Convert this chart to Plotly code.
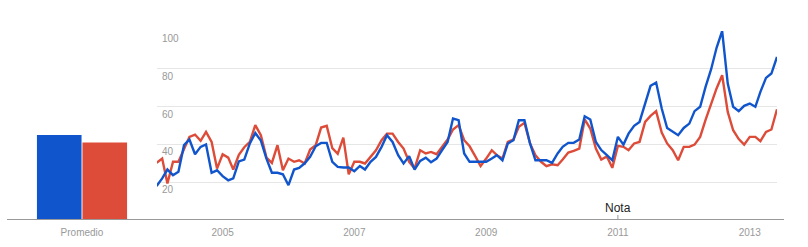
import pandas as pd
import plotly.graph_objects as go

W, H = 808, 247

# ---- data -------------------------------------------------------------
months = pd.date_range("2004-01-01", periods=114, freq="MS")

blue_values = [
    18, 22, 26.7, 23.7, 25.5, 39.6, 42.6, 34.8, 38.7, 40, 25, 26.3,
    23.2, 21, 22, 31, 32, 40.5, 46, 42, 32.5, 25, 25, 24.2,
    18.4, 26.7, 27.6, 30, 33.4, 39, 40.8, 40.8, 30.8, 28.1, 27.8, 27.8,
    25.8, 28.6, 26.7, 30.8, 33.4, 38.7, 44.9, 41.3, 34.3, 29.9, 33.8, 26.7,
    31.3, 33, 30.6, 32.5, 36.9, 41.3, 53.7, 52.8, 35.2, 30.8, 30.8, 30.8,
    30.8, 32.5, 34.3, 31.6, 40.5, 42.2, 52.8, 52.8, 40.5, 31.6, 31.6, 31.6,
    30.2, 35.2, 38.7, 40.8, 40.8, 42.6, 54.9, 53.2, 41.3, 37, 34.3, 31.6,
    44, 39.9, 45.7, 49.8, 51.9, 62.2, 71, 72.7, 59, 48.7, 46.6, 44.9,
    48.7, 51, 57.6, 59.9, 70.4, 79.8, 91.1, 100, 72.2, 59.9, 57.6, 60.4,
    61.6, 59.9, 67.8, 75.2, 77.5, 86.3,
]

red_values = [
    30.2, 32.5, 19.3, 30.8, 30.8, 37.8, 44, 45.2, 41.9, 46.6, 41.3, 27.2,
    34.8, 33, 26.7, 34.5, 38.5, 41.3, 50.2, 44.9, 33, 30.2, 39.6, 26.3,
    32.5, 30.8, 31.6, 29.9, 37.3, 39.6, 48.9, 49.8, 38, 35, 43.6, 24.2,
    30.8, 30.8, 29.9, 33.4, 36.9, 42.2, 45.7, 45.7, 41.3, 37.8, 30.8, 27.2,
    36.9, 35.2, 36, 34.8, 38.7, 42.6, 47.9, 50.2, 42.2, 39, 33.8, 28.5,
    32.5, 36.9, 34.3, 32.5, 41.3, 42.6, 49.3, 51.4, 40.5, 34.3, 30.8, 28.5,
    29.5, 29, 32, 35.7, 36.6, 37.8, 53.2, 48.4, 37.8, 32, 33.6, 27.6,
    39.2, 38.7, 36.9, 40.5, 41.3, 51.9, 55.1, 57.6, 46.3, 40.5, 36.9, 31.6,
    38.7, 38.7, 39.9, 44, 53, 62, 69.6, 76.6, 57.2, 47.5, 42.8, 39.9,
    44, 44, 41.7, 46.6, 47.9, 58.6,
]

avg_category = ["Promedio"]
avg_blue = [45]
avg_red = [41]

year_tickvals = ["2005-01-01", "2007-01-01", "2009-01-01", "2011-01-01", "2013-01-01"]
year_ticktext = ["2005", "2007", "2009", "2011", "2013"]
y_tickvals = [20, 40, 60, 80, 100]
y_ticktext = ["20", "40", "60", "80", "100"]

note_date = "2011-01-01"
note_text = "Nota"

# ---- style ------------------------------------------------------------
BLUE = "#1155CC"
RED = "#DD4B39"
GRAY_TXT = "#999999"
FONT = "Liberation Sans, Arial, sans-serif"


def px_x(p):
    return p / W


def px_y(p):
    return 1 - p / H


y_dom = [px_y(220), px_y(31)]

fig = go.Figure()

fig.add_trace(go.Bar(x=avg_category, y=avg_blue, marker=dict(color=BLUE, line=dict(width=0)),
                     xaxis="x2", yaxis="y2", showlegend=False, hoverinfo="skip"))
fig.add_trace(go.Bar(x=avg_category, y=avg_red, marker=dict(color=RED, line=dict(width=0)),
                     xaxis="x2", yaxis="y2", showlegend=False, hoverinfo="skip"))

fig.add_trace(go.Scatter(x=months, y=red_values, mode="lines",
                         line=dict(color=RED, width=2.4), showlegend=False))
fig.add_trace(go.Scatter(x=months, y=blue_values, mode="lines",
                         line=dict(color=BLUE, width=2.4), showlegend=False))

fig.update_layout(
    width=W, height=H,
    margin=dict(l=0, r=0, t=0, b=0),
    paper_bgcolor="white", plot_bgcolor="white",
    font=dict(family=FONT, size=10, color=GRAY_TXT),
    barmode="group", bargap=0.393, bargroupgap=0.02,
    xaxis=dict(
        domain=[px_x(156.6), px_x(777)],
        type="date",
        range=[months[0], months[-1]],
        tickvals=year_tickvals, ticktext=year_ticktext,
        showgrid=False, zeroline=False, showline=False, ticks="",
        ticklabelstandoff=5,
        tickfont=dict(size=10, color=GRAY_TXT),
        anchor="y",
    ),
    yaxis=dict(
        domain=y_dom, range=[0, 100],
        tickvals=y_tickvals,
        showticklabels=False,
        showgrid=True, gridcolor="#e6e6e6", gridwidth=1,
        zeroline=False, showline=False, ticks="",
        anchor="x",
    ),
    xaxis2=dict(
        domain=[px_x(7), px_x(157)],
        type="category", range=[-0.5, 0.5],
        showgrid=False, zeroline=False, showline=False, ticks="",
        ticklabelstandoff=5,
        tickfont=dict(size=10, color=GRAY_TXT),
        anchor="y2",
    ),
    yaxis2=dict(domain=y_dom, range=[0, 100], visible=False, anchor="x2"),
)

# y tick labels sit just under their gridlines, inside the plot
for v, t in zip(y_tickvals, y_ticktext):
    fig.add_annotation(x=px_x(159.5), xref="paper", y=v, yref="y",
                       text=t, showarrow=False, xanchor="left", yanchor="middle",
                       yshift=-7.5, font=dict(family=FONT, size=10, color=GRAY_TXT))

# baseline running under both panels
fig.add_shape(type="line", xref="paper", yref="paper",
              x0=px_x(7), x1=px_x(784), y0=px_y(219.5), y1=px_y(219.5),
              line=dict(color="#999999", width=1.2))

# note marker
fig.add_shape(type="line", xref="x", yref="paper",
              x0=note_date, x1=note_date, y0=px_y(219.5), y1=px_y(215),
              line=dict(color="#999999", width=1))
fig.add_annotation(x=note_date, xref="x", y=px_y(208), yref="paper",
                   text=note_text, showarrow=False, xanchor="center", yanchor="middle",
                   font=dict(family=FONT, size=12, color="#222222"))

fig.write_html("out.html")
